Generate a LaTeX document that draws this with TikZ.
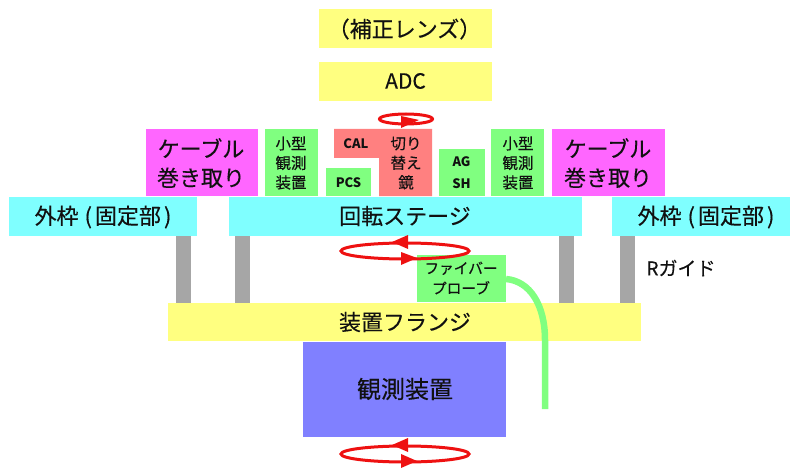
\documentclass[tikz,border=0pt]{standalone}
\usepackage{fontspec}
\setmainfont[FakeBold=0.3,BoldFeatures={FakeBold=0}]{Noto Sans CJK JP}
\usetikzlibrary{arrows.meta}
\definecolor{cyanb}{HTML}{7FFFFF}
\definecolor{yell}{HTML}{FFFF80}
\definecolor{pinkb}{HTML}{FF66FF}
\definecolor{greenb}{HTML}{80FF80}
\definecolor{salmon}{HTML}{FF8080}
\definecolor{blueb}{HTML}{8080FF}
\definecolor{grayb}{HTML}{A6A6A6}
\definecolor{redr}{HTML}{EE1111}
\definecolor{txt}{HTML}{111111}
\tikzset{
 box/.style={draw=none,inner sep=0pt,outer sep=0pt,anchor=north west},
 big/.style={font=\fontsize{22}{29}\selectfont,align=center,text=txt},
 tiny/.style={font=\fontsize{15.5}{19.5}\selectfont,align=center,text=txt},
 lat/.style={font=\fontsize{13}{22}\selectfont\bfseries,align=center,text=txt},
 ring/.style={draw=redr,line width=3pt},
 rtip/.style={fill=redr,draw=none},
 pillar/.style={fill=grayb,draw=none}
}
\newcommand{\bx}[6]{\node[box,fill=#1,minimum width=#4pt-#2pt,minimum height=#5pt-#3pt] (#6) at (#2,#3) {};}
\newcommand{\framelabel}{外枠\hspace{6pt}(\hspace{3pt}固定部\hspace{3pt})}
\begin{document}
\begin{tikzpicture}[x=1pt,y=-1pt]
\useasboundingbox (0,0) rectangle (790,468);
% pillars
\foreach \n/\a/\b in {pa/176/191,pb/235/250,pc/559/574,pd/620/635}
  \node[pillar,inner sep=0pt,outer sep=0pt,anchor=north west,minimum width=\b pt-\a pt,minimum height=67pt] (\n) at (\a,236) {};
% yellow
\bx{yell}{319}{9}{492}{48}{lens}
\node[big] (lenst) at (404.5,29) {（補正レンズ）};
\bx{yell}{319}{62}{492}{101}{adc}
\node[big,font=\fontsize{21}{21}\selectfont] (adct) at (405.5,81) {ADC};
% pink
\bx{pinkb}{146}{129}{258}{196}{cl}
\node[big] (clt) at (201,163) {ケーブル\\巻き取り};
\bx{pinkb}{552}{129}{665}{196}{cr}
\node[big] (crt) at (608,163) {ケーブル\\巻き取り};
% small green
\bx{greenb}{265}{129}{318}{196}{gl}
\node[tiny] (glt) at (291,163) {小型\\観測\\装置};
\bx{greenb}{491}{129}{544}{196}{gr}
\node[tiny] (grt) at (518,163) {小型\\観測\\装置};
\bx{greenb}{326}{168}{371}{196}{pcs}
\node[lat] (pcst) at (348.5,183) {PCS};
\bx{greenb}{439}{149}{485}{196}{ag}
\node[lat] (agt) at (461.5,173) {AG\\SH};
% CAL L-shape
\fill[salmon] (334,129) -- (432,129) -- (432,196) -- (379,196) -- (379,158) -- (334,158) -- cycle;
\node[lat] (calt) at (356,144) {CAL};
\node[tiny] (kiri) at (406,163) {切り\\替え\\鏡};
% ring top
\coordinate (rt) at (406,119);
\draw[ring] (rt) ellipse [x radius=26.5pt,y radius=5pt];
\fill[rtip] (401,116) -- (401,128) -- (419,120) -- cycle;
% stage
\bx{cyanb}{229}{197}{582}{236}{stage}
\node[big] (staget) at (405,216) {回転ステージ};
\bx{cyanb}{9}{197}{197}{236}{wl}
\node[big] (wlt) at (103,217) {\framelabel};
\bx{cyanb}{612}{197}{790}{236}{wr}
\node[big] (wrt) at (706,217) {\framelabel};
% flange, instrument
\bx{yell}{168}{303}{641}{341}{fl}
\node[big] (flt) at (405,322) {装置フランジ};
\bx{blueb}{303}{342}{506}{437}{ins}
\node[big,font=\fontsize{24}{24}\selectfont] (inst) at (405,389) {観測装置};
% fibre
\bx{greenb}{417}{255}{506}{302}{fib}
\draw[greenb,line width=6.5pt] (506,279) .. controls (530,281) and (545,305) .. (545,340) -- (545,409);
\node[tiny,font=\fontsize{14.7}{20}\selectfont] (fibt) at (461,278) {ファイバー\\プローブ};
% ring mid
\coordinate (rm) at (405,251);
\draw[ring] (rm) ellipse [x radius=64pt,y radius=8pt];
\fill[rtip] (408,235) -- (408,249) -- (392,242) -- cycle;
\fill[rtip] (401,252) -- (401,265) -- (417,258) -- cycle;
% ring bottom
\coordinate (rb) at (405,454);
\draw[ring] (rb) ellipse [x radius=64pt,y radius=8pt];
\fill[rtip] (408,438) -- (408,452) -- (392,445) -- cycle;
\fill[rtip] (401,454) -- (401,468) -- (417,461) -- cycle;
% label
\node[big,font=\fontsize{19}{19}\selectfont] (rg) at (681,268) {Rガイド};
\end{tikzpicture}
\end{document}
